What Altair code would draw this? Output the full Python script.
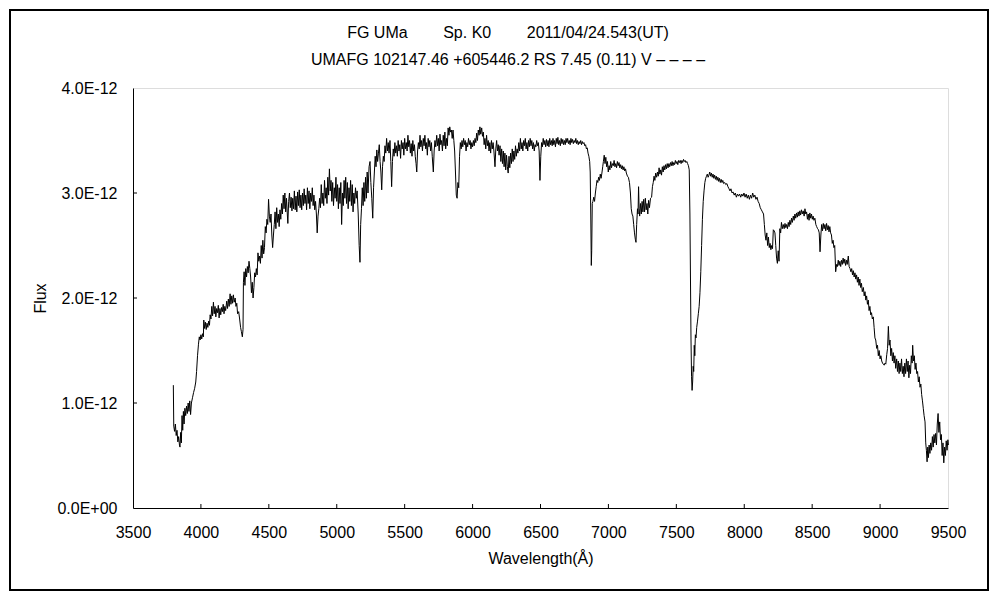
import altair as alt
import pandas as pd

# Wavelength (Angstrom) and flux (units of 1e-12)
WAVELENGTH = [
 3797,3800,3806,3812,3818,3824,3830,3836,3842,3846,3851,3856,3861,3866,3871,3876,3882,3888,3894,3900,
 3906,3912,3918,3924,3930,3938,3946,3954,3962,3968,3975,3982,3988,3994,4000,4006,4012,4018,4021,4027,
 4033,4039,4045,4051,4057,4063,4068,4074,4080,4086,4092,4098,4104,4110,4116,4122,4128,4134,4140,4146,
 4152,4158,4164,4170,4176,4182,4190,4196,4202,4208,4215,4221,4227,4233,4239,4245,4252,4258,4264,4270,
 4278,4285,4292,4298,4305,4310,4313,4318,4324,4330,4336,4342,4348,4354,4360,4366,4372,4378,4384,4390,
 4396,4402,4408,4414,4420,4426,4432,4438,4444,4450,4456,4462,4468,4474,4480,4486,4492,4498,4504,4510,
 4516,4522,4528,4534,4540,4546,4552,4558,4564,4570,4576,4582,4588,4594,4600,4606,4612,4618,4624,4630,
 4636,4640,4646,4652,4658,4664,4670,4676,4682,4688,4694,4700,4706,4712,4718,4724,4730,4736,4742,4748,
 4754,4760,4766,4772,4778,4784,4790,4796,4802,4808,4814,4820,4826,4832,4838,4844,4850,4856,4862,4868,
 4874,4880,4886,4892,4898,4904,4910,4916,4922,4928,4934,4940,4946,4952,4958,4964,4970,4976,4982,4988,
 4994,5000,5006,5012,5018,5024,5030,5036,5042,5048,5054,5060,5066,5072,5078,5084,5090,5096,5102,5108,
 5114,5120,5126,5132,5138,5144,5150,5158,5165,5171,5176,5182,5188,5194,5200,5206,5212,5218,5224,5230,
 5238,5245,5251,5258,5265,5271,5277,5283,5289,5295,5301,5307,5313,5319,5325,5331,5337,5343,5349,5355,
 5361,5367,5373,5379,5385,5392,5398,5404,5410,5416,5422,5428,5434,5440,5446,5452,5458,5464,5470,5476,
 5482,5488,5494,5500,5506,5512,5518,5524,5530,5536,5542,5548,5554,5560,5566,5572,5578,5584,5589,5595,
 5601,5607,5613,5619,5625,5631,5637,5643,5649,5655,5661,5667,5673,5679,5685,5691,5697,5703,5711,5717,
 5723,5729,5736,5742,5748,5754,5760,5766,5772,5778,5784,5790,5796,5802,5808,5814,5820,5826,5832,5838,
 5844,5850,5856,5862,5868,5874,5880,5886,5892,5898,5904,5910,5916,5922,5928,5934,5940,5946,5952,5958,
 5964,5970,5976,5982,5988,5994,6000,6006,6012,6018,6024,6030,6036,6042,6048,6054,6060,6067,6073,6079,
 6085,6091,6097,6103,6109,6115,6121,6127,6133,6139,6145,6151,6157,6165,6171,6177,6183,6189,6195,6202,
 6208,6214,6220,6226,6232,6238,6244,6250,6256,6262,6268,6274,6280,6286,6292,6298,6304,6310,6316,6322,
 6328,6334,6340,6346,6352,6358,6364,6370,6376,6382,6388,6394,6400,6406,6412,6418,6424,6430,6436,6442,
 6448,6454,6460,6466,6472,6478,6484,6490,6496,6502,6508,6514,6520,6526,6532,6538,6544,6550,6556,6562,
 6568,6574,6580,6586,6592,6598,6604,6610,6616,6622,6628,6634,6640,6646,6652,6658,6664,6670,6676,6682,
 6688,6694,6700,6706,6712,6718,6724,6730,6736,6742,6748,6754,6760,6766,6772,6778,6784,6790,6796,6802,
 6808,6814,6820,6826,6832,6838,6844,6850,6856,6862,6866,6870,6874,6877,6881,6886,6892,6898,6904,6910,
 6916,6922,6928,6934,6940,6946,6952,6958,6963,6969,6975,6981,6987,6993,6999,7005,7011,7017,7023,7029,
 7036,7042,7048,7054,7060,7066,7072,7078,7084,7090,7096,7102,7108,7114,7120,7126,7132,7140,7147,7155,
 7162,7168,7174,7180,7186,7192,7198,7203,7208,7214,7218,7222,7226,7230,7236,7242,7248,7254,7260,7266,
 7272,7278,7284,7290,7296,7302,7310,7318,7324,7330,7336,7342,7348,7355,7361,7367,7373,7379,7385,7391,
 7397,7403,7409,7415,7421,7427,7433,7439,7445,7451,7457,7463,7469,7475,7481,7487,7493,7499,7505,7511,
 7517,7523,7529,7535,7541,7547,7553,7559,7565,7571,7577,7583,7589,7595,7600,7604,7608,7612,7616,7620,
 7624,7628,7632,7636,7640,7645,7650,7656,7662,7668,7674,7680,7686,7692,7698,7704,7710,7716,7722,7728,
 7734,7740,7746,7752,7758,7764,7770,7776,7782,7788,7794,7800,7806,7812,7818,7824,7830,7836,7842,7848,
 7856,7864,7872,7880,7888,7895,7902,7910,7918,7926,7934,7942,7950,7958,7966,7974,7982,7990,7998,8006,
 8014,8022,8030,8038,8046,8054,8062,8070,8078,8086,8094,8102,8110,8118,8126,8134,8142,8148,8154,8160,
 8166,8172,8178,8184,8190,8196,8202,8208,8214,8220,8226,8232,8238,8244,8250,8256,8262,8268,8274,8280,
 8287,8294,8300,8306,8312,8318,8324,8330,8336,8342,8348,8354,8361,8367,8373,8379,8385,8391,8397,8403,
 8409,8415,8421,8427,8434,8441,8447,8453,8459,8465,8471,8477,8483,8489,8495,8501,8507,8513,8520,8527,
 8533,8540,8546,8552,8558,8564,8570,8576,8582,8588,8594,8600,8606,8612,8618,8624,8630,8636,8642,8648,
 8654,8660,8666,8673,8680,8686,8692,8698,8704,8710,8716,8722,8728,8734,8740,8746,8752,8758,8766,8772,
 8779,8785,8791,8797,8803,8809,8815,8821,8827,8833,8839,8845,8851,8857,8863,8869,8877,8883,8889,8895,
 8901,8907,8913,8919,8925,8931,8937,8943,8950,8956,8962,8968,8975,8981,8987,8993,9000,9006,9012,9018,
 9024,9030,9036,9042,9049,9055,9061,9067,9073,9079,9085,9091,9097,9103,9109,9115,9122,9128,9134,9140,
 9146,9152,9158,9164,9170,9176,9182,9188,9194,9200,9206,9212,9218,9224,9230,9236,9240,9246,9252,9258,
 9264,9270,9276,9282,9288,9294,9300,9306,9312,9318,9324,9331,9336,9341,9346,9351,9356,9361,9367,9373,
 9379,9385,9391,9397,9403,9409,9415,9421,9427,9433,9439,9445,9451,9457,9463,9469,9475,9481,9487,9493,
 9499,9503,
]

FLUX_E12 = [
 1.17,0.78,0.73,0.80,0.69,0.74,0.63,0.68,0.60,0.58,0.72,0.62,0.88,0.74,0.92,0.80,0.95,0.88,0.97,0.90,
 1.00,0.92,1.02,0.89,1.00,1.05,1.10,1.14,1.20,1.30,1.45,1.56,1.63,1.60,1.65,1.61,1.66,1.63,1.79,1.71,
 1.77,1.70,1.76,1.72,1.78,1.74,1.84,1.80,1.92,1.83,1.96,1.85,1.92,1.82,1.90,1.86,1.93,1.81,1.90,1.84,
 1.91,1.87,1.94,1.85,1.92,1.88,1.97,1.90,1.99,1.92,2.04,1.94,2.02,1.95,2.03,1.96,2.00,1.92,1.95,1.85,
 1.87,1.80,1.72,1.68,1.63,1.70,2.15,2.25,2.12,2.28,2.20,2.30,2.24,2.35,2.28,2.20,2.05,2.15,2.00,2.10,
 2.24,2.20,2.28,2.22,2.43,2.35,2.40,2.33,2.50,2.38,2.55,2.42,2.48,2.68,2.62,2.75,2.70,2.94,2.78,2.72,
 2.80,2.60,2.48,2.60,2.70,2.82,2.66,2.86,2.72,2.80,2.68,2.84,2.75,2.90,2.80,2.98,2.85,3.00,2.82,2.95,
 2.80,2.71,2.92,3.00,2.86,2.96,2.83,2.95,2.85,3.02,2.84,2.97,2.82,3.01,2.88,3.03,2.86,2.98,2.84,3.00,
 2.88,3.04,2.90,2.98,2.84,3.05,2.90,3.02,2.85,3.00,2.92,3.05,2.88,2.98,2.84,2.92,2.80,2.62,2.78,2.85,
 2.95,2.86,3.08,2.90,3.00,2.88,3.12,2.95,3.05,2.90,3.15,2.98,3.23,3.02,3.12,2.92,3.10,2.88,3.05,2.95,
 3.15,2.92,3.08,2.85,3.05,2.90,3.10,2.70,3.00,2.88,3.12,2.95,3.15,2.90,3.10,2.85,3.05,2.92,3.12,2.88,
 3.08,2.82,3.00,2.90,3.05,2.95,3.02,2.80,2.50,2.34,2.70,2.85,3.05,2.88,3.10,2.92,3.15,2.95,3.20,3.00,
 3.25,3.30,3.10,2.95,2.76,3.05,3.20,3.35,3.25,3.41,3.30,3.38,3.46,3.30,3.20,3.03,3.25,3.35,3.30,3.45,
 3.38,3.52,3.40,3.48,3.38,3.50,3.30,3.06,3.30,3.42,3.35,3.48,3.38,3.45,3.35,3.50,3.40,3.46,3.33,3.50,
 3.42,3.48,3.36,3.52,3.42,3.48,3.40,3.55,3.44,3.50,3.38,3.47,3.35,3.50,3.40,3.46,3.35,3.28,3.20,3.40,
 3.48,3.42,3.55,3.44,3.50,3.40,3.52,3.45,3.55,3.42,3.48,3.36,3.52,3.44,3.50,3.40,3.48,3.35,3.20,3.40,
 3.50,3.44,3.55,3.45,3.52,3.40,3.56,3.46,3.50,3.40,3.55,3.45,3.58,3.42,3.52,3.45,3.62,3.55,3.63,3.58,
 3.60,3.52,3.60,3.50,3.40,3.20,2.98,2.95,3.10,3.05,3.35,3.48,3.42,3.50,3.44,3.52,3.46,3.50,3.40,3.48,
 3.44,3.52,3.46,3.50,3.42,3.48,3.44,3.50,3.45,3.52,3.48,3.57,3.50,3.60,3.55,3.63,3.56,3.62,3.54,3.58,
 3.46,3.52,3.42,3.55,3.45,3.50,3.40,3.48,3.38,3.50,3.42,3.48,3.40,3.25,3.42,3.50,3.40,3.46,3.36,3.45,
 3.30,3.42,3.28,3.40,3.25,3.38,3.22,3.36,3.25,3.19,3.35,3.24,3.38,3.28,3.42,3.30,3.40,3.32,3.45,3.35,
 3.42,3.38,3.48,3.40,3.52,3.42,3.48,3.40,3.50,3.45,3.52,3.42,3.48,3.40,3.50,3.44,3.52,3.45,3.50,3.42,
 3.48,3.40,3.46,3.44,3.50,3.45,3.48,3.40,3.12,3.35,3.48,3.44,3.52,3.46,3.50,3.44,3.51,3.45,3.50,3.44,
 3.52,3.46,3.50,3.45,3.52,3.46,3.50,3.44,3.52,3.47,3.53,3.46,3.50,3.45,3.52,3.47,3.51,3.46,3.50,3.46,
 3.52,3.48,3.52,3.47,3.50,3.46,3.52,3.48,3.51,3.47,3.50,3.48,3.52,3.47,3.50,3.46,3.49,3.47,3.50,3.46,
 3.49,3.47,3.48,3.45,3.46,3.42,3.43,3.38,3.35,3.30,3.20,2.80,2.31,2.45,2.90,2.92,2.96,2.92,3.00,3.06,
 3.12,3.10,3.15,3.12,3.18,3.14,3.19,3.25,3.30,3.36,3.28,3.34,3.25,3.30,3.20,3.26,3.22,3.30,3.24,3.28,
 3.26,3.31,3.25,3.28,3.24,3.30,3.26,3.29,3.24,3.27,3.23,3.26,3.22,3.25,3.21,3.23,3.19,3.16,3.15,3.10,
 3.00,2.85,2.80,2.78,2.70,2.62,2.56,2.53,2.70,2.85,2.80,3.06,2.85,2.78,2.90,2.80,2.92,2.82,2.94,2.82,
 2.95,2.84,2.90,2.80,2.93,2.86,2.95,2.96,3.06,3.10,3.16,3.12,3.19,3.15,3.20,3.16,3.24,3.18,3.22,3.17,
 3.25,3.20,3.26,3.22,3.27,3.23,3.28,3.24,3.28,3.25,3.29,3.26,3.30,3.26,3.29,3.27,3.31,3.28,3.30,3.27,
 3.31,3.29,3.31,3.28,3.31,3.29,3.32,3.30,3.31,3.29,3.30,3.28,3.26,3.22,2.80,2.20,1.60,1.25,1.12,1.20,
 1.35,1.30,1.55,1.45,1.65,1.62,1.72,1.78,1.85,1.92,2.05,2.25,2.50,2.75,2.92,3.02,3.10,3.14,3.16,3.18,
 3.15,3.17,3.20,3.16,3.19,3.15,3.18,3.14,3.17,3.13,3.16,3.12,3.15,3.11,3.14,3.10,3.13,3.10,3.12,3.09,
 3.10,3.08,3.09,3.06,3.04,3.02,3.04,3.00,3.01,2.98,3.00,2.96,2.99,2.97,2.99,2.96,2.99,2.97,3.00,2.96,
 2.99,2.95,2.98,2.94,2.98,2.95,3.00,2.96,2.98,2.94,2.96,2.92,2.90,2.86,2.84,2.82,2.80,2.70,2.60,2.55,
 2.62,2.50,2.58,2.48,2.52,2.46,2.50,2.47,2.65,2.64,2.62,2.50,2.38,2.33,2.45,2.35,2.66,2.62,2.72,2.66,
 2.70,2.66,2.71,2.67,2.70,2.66,2.72,2.68,2.74,2.70,2.76,2.72,2.78,2.74,2.80,2.76,2.81,2.77,2.82,2.78,
 2.83,2.79,2.84,2.80,2.83,2.78,2.85,2.80,2.82,2.75,2.80,2.74,2.81,2.76,2.80,2.75,2.78,2.74,2.76,2.70,
 2.68,2.66,2.65,2.62,2.44,2.60,2.70,2.64,2.71,2.66,2.70,2.64,2.71,2.65,2.69,2.63,2.68,2.62,2.60,2.52,
 2.55,2.48,2.50,2.25,2.32,2.30,2.36,2.31,2.35,2.30,2.36,2.32,2.38,2.33,2.37,2.31,2.36,2.32,2.40,2.30,
 2.28,2.25,2.28,2.22,2.26,2.20,2.24,2.18,2.22,2.15,2.20,2.12,2.18,2.10,2.14,2.06,2.10,2.02,2.06,1.98,
 2.02,1.94,1.98,1.88,1.92,1.84,1.86,1.80,1.82,1.72,1.62,1.60,1.52,1.55,1.45,1.50,1.42,1.45,1.40,1.38,
 1.37,1.36,1.38,1.37,1.46,1.52,1.73,1.55,1.60,1.45,1.52,1.40,1.48,1.38,1.45,1.33,1.42,1.30,1.40,1.28,
 1.38,1.30,1.42,1.28,1.35,1.25,1.38,1.28,1.42,1.30,1.40,1.24,1.36,1.28,1.45,1.38,1.55,1.40,1.45,1.32,
 1.38,1.28,1.30,1.20,1.25,1.15,1.18,1.08,1.02,0.95,0.88,0.82,0.62,0.55,0.44,0.58,0.48,0.60,0.52,0.62,
 0.55,0.68,0.58,0.70,0.62,0.71,0.60,0.80,0.90,0.72,0.82,0.65,0.70,0.50,0.62,0.43,0.58,0.50,0.64,0.55,
 0.65,0.60,
]

X_TICKS = [4000, 4500, 5000, 5500, 6000, 6500, 7000, 7500, 8000, 8500, 9000]
Y_TICKS = [1e-12, 2e-12, 3e-12]
X_LABELS = list(range(3500, 10000, 500))
Y_LABELS = [0, 1e-12, 2e-12, 3e-12, 4e-12]

TITLE_1 = "FG UMa" + "\u00a0" * 8 + "Sp. K0" + "\u00a0" * 8 + "2011/04/24.543(UT)"
TITLE_2 = "UMAFG 102147.46 +605446.2 RS 7.45 (0.11) V \u2013 \u2013 \u2013 \u2013"

FONT = "Liberation Sans"

df = pd.DataFrame({"wl": WAVELENGTH, "flux": [v * 1e-12 for v in FLUX_E12]})
xt = pd.DataFrame({"wl": X_TICKS})
yt = pd.DataFrame({"flux": Y_TICKS})

xscale = alt.Scale(domain=[3500, 9500], nice=False, zero=False)
yscale = alt.Scale(domain=[0, 4e-12], nice=False)

xaxis = alt.Axis(values=X_LABELS, title="Wavelength(Å)",
                 tickSize=0, labelPadding=16, titlePadding=10, format="d",
                 labelFlush=False, labelOverlap=False,
                 domainColor="black", labelFontSize=16, titleFontSize=16,
                 labelFont=FONT, titleFont=FONT, labelColor="black",
                 titleColor="black", titleFontWeight="normal", grid=False)
yaxis = alt.Axis(values=Y_LABELS, title="Flux",
                 tickSize=0, labelPadding=16, titlePadding=8,
                 labelFlush=False, labelOverlap=False,
                 labelExpr="datum.value == 0 ? '0.0E+00' : replace(format(datum.value, '.1e'), 'e', 'E')",
                 domainColor="black", labelFontSize=16, titleFontSize=16,
                 labelFont=FONT, titleFont=FONT, labelColor="black",
                 titleColor="black", titleFontWeight="normal", grid=False)

line = alt.Chart(df).mark_line(color="black", strokeWidth=1).encode(
    x=alt.X("wl:Q", scale=xscale, axis=xaxis),
    y=alt.Y("flux:Q", scale=yscale, axis=yaxis),
)

xticks = alt.Chart(xt).mark_rule(color="black", strokeWidth=1).encode(
    x=alt.X("wl:Q", scale=xscale, axis=xaxis),
    y=alt.value(420), y2=alt.value(416),
)
yticks = alt.Chart(yt).mark_rule(color="black", strokeWidth=1).encode(
    y=alt.Y("flux:Q", scale=yscale, axis=yaxis),
    x=alt.value(0), x2=alt.value(4),
)

one = pd.DataFrame({"a": [0]})


def title_line(txt, ypix):
    return alt.Chart(one).mark_text(
        font=FONT, fontSize=16, color="black", align="center", baseline="middle"
    ).encode(text=alt.value(txt), x=alt.value(375), y=alt.value(ypix))


title1 = title_line(TITLE_1, -55)
title2 = title_line(TITLE_2, -28)

frame = alt.Chart(one).mark_rect(
    fill=None, stroke="black", strokeWidth=2
).encode(
    x=alt.value(-123), x2=alt.value(855), y=alt.value(-78), y2=alt.value(502)
)

chart = alt.layer(line, xticks, yticks, title1, title2, frame).properties(
    width=815, height=420,
    autosize=alt.AutoSizeParams(type="none"),
    padding={"left": 125, "top": 80, "right": 42, "bottom": 84},
).configure_view(stroke="#808080", strokeWidth=1).configure(background="white")

chart.save("out.html", embed_options={"renderer": "svg", "actions": False})
